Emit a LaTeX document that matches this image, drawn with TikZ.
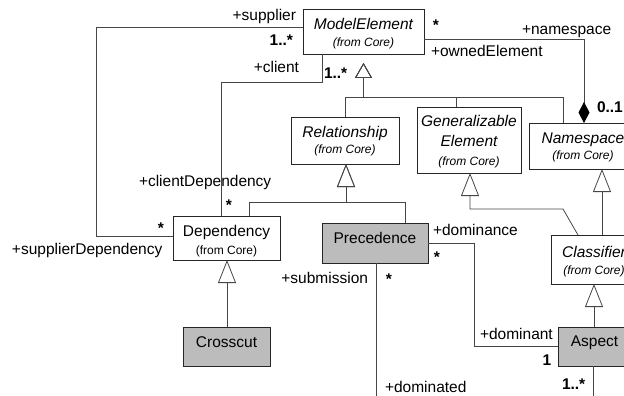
\documentclass[tikz,border=0pt]{standalone}
\usepackage{fontspec}
\setmainfont{Liberation Sans}
\usetikzlibrary{arrows.meta}
\definecolor{boxgray}{RGB}{188,188,188}
\definecolor{linecol}{RGB}{70,70,70}
\newcommand\mylabelfont{\fontsize{15.5}{18}\selectfont}
\newcommand\mysmallfont{\fontsize{12}{14}\selectfont}
\begin{document}
\begin{tikzpicture}[x=1pt,y=-1pt,
  umlbox/.style={draw=black!85, line width=0.8pt, fill=white, anchor=north west, inner sep=0pt, outer sep=0pt},
  graybox/.style={umlbox, fill=boxgray},
  conn/.style={draw=linecol, line width=0.8pt, line join=miter},
  gen/.style={conn, -{Triangle[open, length=23pt, width=18pt]}},
  genshort/.style={conn, -{Triangle[open, length=15pt, width=17pt]}},
  comp/.style={conn, -{Diamond[length=21pt, width=11pt, color=black, fill=black]}},
  lbl/.style={font=\mylabelfont, inner sep=0pt, outer sep=0pt},
  sml/.style={font=\mysmallfont, inner sep=0pt, outer sep=0pt},
  mult/.style={font=\mylabelfont\bfseries, inner sep=0pt, outer sep=0pt}]
\useasboundingbox (0,0) rectangle (624,396);
\clip (0,0) rectangle (624,396);

% boxes
\node[umlbox, minimum width=121pt, minimum height=45pt] (me) at (303,9) {};
\node[umlbox, minimum width=108pt, minimum height=47pt] (rel) at (291,117) {};
\node[umlbox, minimum width=104pt, minimum height=66pt] (ge) at (417,107) {};
\node[umlbox, minimum width=108pt, minimum height=46pt] (ns) at (529,123) {};
\node[umlbox, minimum width=107pt, minimum height=44pt] (dep) at (173,216) {};
\node[graybox, minimum width=106pt, minimum height=40pt] (prec) at (322,223) {};
\node[graybox, minimum width=87pt, minimum height=39pt] (cc) at (183,327) {};
\node[umlbox, minimum width=86pt, minimum height=49pt] (cls) at (551,235) {};
\node[graybox, minimum width=73pt, minimum height=39pt] (asp) at (558,327) {};

% box texts
\node[lbl, anchor=base] (tme) at (363.5,30) {\itshape ModelElement};
\node[sml, anchor=base] (tme2) at (363.5,47) {\itshape (from Core)};
\node[lbl, anchor=base] (trel) at (345,137) {\itshape Relationship};
\node[sml, anchor=base] (trel2) at (345,153) {\itshape (from Core)};
\node[lbl, anchor=base] (tge) at (469,126) {\itshape Generalizable};
\node[lbl, anchor=base] (tge2) at (469,146) {\itshape Element};
\node[sml, anchor=base] (tge3) at (469,165) {\itshape (from Core)};
\node[lbl, anchor=base] (tns) at (583,143) {\itshape Namespace};
\node[sml, anchor=base] (tns2) at (583,159) {\itshape (from Core)};
\node[lbl, anchor=base] (tdep) at (226.5,236) {Dependency};
\node[sml, anchor=base] (tdep2) at (226.5,254) {(from Core)};
\node[lbl, anchor=base] (tprec) at (375,243) {Precedence};
\node[lbl, anchor=base] (tcc) at (226.5,347) {Crosscut};
\node[lbl, anchor=base] (tcls) at (594,257) {\itshape Classifier};
\node[sml, anchor=base] (tcls2) at (594,274) {\itshape (from Core)};
\node[lbl, anchor=base] (tasp) at (594.5,346) {Aspect};

% connectors
\draw[conn] (me.west |- 0,27) -- (96,27) -- (96,236) -- (dep.west |- 0,236);
\draw[conn] (me.south -| 322,0) -- (322,82) -- (221,82) -- (dep.north -| 221,0);
\draw[comp] (me.east |- 0,39) -- (584,39) -- (ns.north -| 584,0);
\coordinate (meTip) at (363.5,63);
\draw[genshort] (rel.north -| 345,0) -- (345,97) -- (363.5,97) -- (meTip);
\draw[genshort] (ge.north -| 456,0) -- (456,97) -- (363.5,97) -- (meTip);
\draw[genshort] (ns.north -| 563,0) -- (563,97) -- (363.5,97) -- (meTip);
\draw[gen] (dep.north -| 249,0) -- (249,202) -- (346,202) -- (rel.south -| 346,0);
\draw[gen] (prec.north -| 405,0) -- (405,202) -- (346,202) -- (rel.south -| 346,0);
\draw[gen] (cc.north -| 227,0) -- (dep.south -| 227,0);
\draw[gen] (cls.north -| 578,0) -- (563,209) -- (470,209) -- (ge.south -| 470,0);
\draw[gen] (cls.north -| 602,0) -- (ns.south -| 602,0);
\draw[gen] (asp.north -| 594,0) -- (cls.south -| 594,0);
\draw[conn] (prec.east |- 0,243) -- (474,243) -- (474,346) -- (asp.west |- 0,346);
\coordinate (domEnd) at (376,402);
\draw[conn] (prec.south -| 376,0) -- (domEnd);
\coordinate (aspEnd) at (593,402);
\draw[conn] (asp.south -| 593,0) -- (aspEnd);

% role names and multiplicities
\node[lbl, anchor=base east] (l1) at (296,21) {+supplier};
\node[mult, anchor=base east] (m1) at (293,46) {1..*};
\node[lbl, anchor=base east] (l2) at (299,73) {+client};
\node[lbl, anchor=base west] (l3) at (139,186) {+clientDependency};
\node[mult, anchor=base] (m2) at (229,210) {*};
\node[mult, anchor=base] (m3) at (161,233) {*};
\node[lbl, anchor=base west] (l4) at (12,254) {+supplierDependency};
\node[mult, anchor=base west] (m4) at (324,78) {1..*};
\node[mult, anchor=base] (m5) at (436,31) {*};
\node[lbl, anchor=base west] (l5) at (522,35) {+namespace};
\node[lbl, anchor=base west] (l6) at (431,57) {+ownedElement};
\node[mult, anchor=base west] (m6) at (597,113) {0..1};
\node[lbl, anchor=base west] (l7) at (433,235) {+dominance};
\node[mult, anchor=base] (m7) at (437,262) {*};
\node[lbl, anchor=base east] (l8) at (368,283) {+submission};
\node[mult, anchor=base] (m8) at (389,284) {*};
\node[lbl, anchor=base west] (l9) at (385,392) {+dominated};
\node[lbl, anchor=base west] (l10) at (480,339) {+dominant};
\node[mult, anchor=base] (m9) at (547,365) {1};
\node[mult, anchor=base west] (m10) at (562,389) {1..*};
\end{tikzpicture}
\end{document}
